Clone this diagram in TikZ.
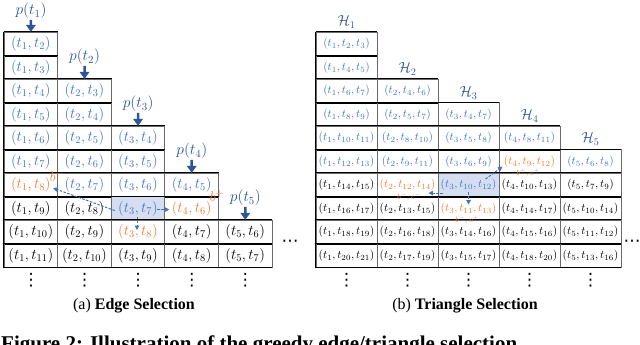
\RequirePackage{fix-cm}
\documentclass[tikz,border=0pt]{standalone}
\usepackage{fontspec}
\newfontfamily\capfont{Liberation Serif}
\newfontfamily\dejavu{DejaVu Sans}
\usetikzlibrary{arrows.meta,calc}
\definecolor{cB}{HTML}{4472C4}
\definecolor{cO}{HTML}{ED7D31}
\definecolor{cD}{HTML}{2F5597}
\definecolor{hlfill}{HTML}{D5DEF1}
\definecolor{vline}{HTML}{6A6A6A}
\tikzset{
  cellL/.style={draw=vline, line width=0.9pt, minimum width=53.6pt, minimum height=23.5pt, inner sep=0pt, font=\fontsize{14.8}{16}\selectfont},
  cellR/.style={draw=vline, line width=0.9pt, minimum width=61pt, minimum height=23.5pt, inner sep=0pt, font=\fontsize{11.4}{13}\selectfont},
  sB/.style={text=cB}, sO/.style={text=cO}, sK/.style={text=black},
  sH/.style={text=cB, fill=hlfill},
  hline/.style={draw=black, line width=1.1pt},
  plabel/.style={text=cD, inner sep=1pt, font=\fontsize{15.5}{17}\selectfont},
  hlabel/.style={text=cD, inner sep=1pt, font=\fontsize{14.5}{16}\selectfont},
  parrow/.style={draw=cD, line width=2.5pt, -{Triangle[length=7pt,width=9.5pt]}},
  darrow/.style={draw=cB, line width=1pt, dash pattern=on 2.5pt off 1.5pt, -{Triangle[length=4.5pt,width=4.5pt]}},
  blab/.style={text=cO, inner sep=0pt, font=\fontsize{14}{16}\selectfont},
  smlab/.style={text=cO, inner sep=0pt, font=\fontsize{7.5}{9}\selectfont},
  dotsnode/.style={inner sep=0pt, font=\dejavu\fontsize{17}{19}\selectfont},
  capnode/.style={anchor=base, inner sep=0pt, font=\capfont\fontsize{16}{19}\selectfont}
}
\begin{document}
\begin{tikzpicture}[x=1pt,y=-1pt]
\useasboundingbox (0,0) rectangle (640,345);
\clip (0,0) rectangle (640,345);
% ---------- left grid: edge selection ----------
\foreach \na/\ns/\lst in {
  1/1/{sB,sB,sB,sB,sB,sB,sO,sK,sK,sK},
  2/3/{sB,sB,sB,sB,sB,sK,sK,sK},
  3/5/{sB,sB,sB,sH,sO,sK},
  4/7/{sB,sO,sK,sK},
  5/9/{sK,sK}}{
  \foreach \st [count=\kk from 0] in \lst {
    \pgfmathtruncatemacro\rr{\ns+\kk}
    \pgfmathtruncatemacro\nb{\rr-\na+2}
    \pgfmathsetmacro\xx{4+(\na-1)*53.6+26.8}
    \pgfmathsetmacro\yy{32.3+(\rr-1)*23.5+11.75}
    \node[cellL,\st] (L\na-\nb) at (\xx,\yy) {$(t_{\na},t_{\nb})$};
    \draw[hline] (L\na-\nb.north west) -- (L\na-\nb.north east)
                 (L\na-\nb.south west) -- (L\na-\nb.south east);
  }
}
\draw[hline] (L1-2.north west) -- (L1-11.south west);
% ---------- right grid: triangle selection ----------
\foreach \nc/\ns/\lst in {
  1/1/{2/3/sB,4/5/sB,6/7/sB,8/9/sB,10/11/sB,12/13/sB,14/15/sK,16/17/sK,18/19/sK,20/21/sK},
  2/3/{4/6/sB,5/7/sB,8/10/sB,9/11/sB,12/14/sO,13/15/sK,16/18/sK,17/19/sK},
  3/4/{4/7/sB,5/8/sB,6/9/sB,10/12/sH,11/13/sO,14/16/sK,15/17/sK},
  4/5/{8/11/sB,9/12/sO,10/13/sK,14/17/sK,15/16/sK,18/20/sK},
  5/6/{6/8/sB,7/9/sK,10/14/sK,11/12/sK,13/16/sK}}{
  \foreach \pp/\qq/\st [count=\kk from 0] in \lst {
    \pgfmathtruncatemacro\rr{\ns+\kk}
    \pgfmathsetmacro\xx{316+(\nc-1)*61+30.5}
    \pgfmathsetmacro\yy{32.3+(\rr-1)*23.5+11.75}
    \node[cellR,\st] (R\nc-\rr) at (\xx,\yy) {$(t_{\nc},t_{\pp},t_{\qq})$};
    \draw[hline] (R\nc-\rr.north west) -- (R\nc-\rr.north east)
                 (R\nc-\rr.south west) -- (R\nc-\rr.south east);
  }
}
\draw[hline] (R1-1.north west) -- (R1-10.south west);
% ---------- p(t) labels and arrows ----------
\node[plabel] (p1) at (31,11) {$p(t_1)$};
\node[plabel] (p2) at (84.6,57) {$p(t_2)$};
\node[plabel] (p3) at (138.2,104) {$p(t_3)$};
\node[plabel] (p4) at (191.8,151) {$p(t_4)$};
\node[plabel] (p5) at (245.4,198) {$p(t_5)$};
\draw[parrow] (p1) -- (L1-2);
\draw[parrow] (p2) -- (L2-3);
\draw[parrow] (p3) -- (L3-4);
\draw[parrow] (p4) -- (L4-5);
\draw[parrow] (p5) -- (L5-6);
% ---------- H labels ----------
\node[hlabel] (h1) at (346.5,22) {$\mathcal{H}_1$};
\node[hlabel] (h2) at (407.5,69) {$\mathcal{H}_2$};
\node[hlabel] (h3) at (468.5,93) {$\mathcal{H}_3$};
\node[hlabel] (h4) at (529.5,116) {$\mathcal{H}_4$};
\node[hlabel] (h5) at (590.5,139) {$\mathcal{H}_5$};
% ---------- left dashed arrows ----------
\draw[darrow] ([shift={(4,2)}]L3-7.west) -- ([shift={(-5,3)}]L1-8.east);
\draw[darrow] ([shift={(-1,8)}]L3-7.center) -- ([shift={(-1,-2)}]L3-8.center);
\draw[darrow] ([shift={(-8,1)}]L3-7.east) -- ([shift={(5,1)}]L4-6.west);
\node[blab] (bm) at (57,176) {$b^-$};
\node[blab] (bp) at (217,196) {$b^+$};
% ---------- right dashed arrows ----------
\draw[darrow] ([shift={(5,8)}]R3-7.west) -- ([shift={(-10,8)}]R2-7.east);
\draw[darrow] ([shift={(0,7)}]R3-7.center) -- ([shift={(0,-4)}]R3-8.center);
\draw[darrow] ([shift={(17,-6)}]R3-7.center) -- ([shift={(4,5)}]R4-6.west);
\node[smlab] (lb1) at (409,197) {$b^-,c^-$};
\node[smlab] (lb2) at (467,220) {$b^-,c^+$};
\node[smlab] (lb3) at (528,173) {$b^+,c^+$};
% ---------- dots ----------
\node[dotsnode] (v1) at (31,280) {⋮};
\node[dotsnode] (v2) at (84.6,280) {⋮};
\node[dotsnode] (v3) at (138.2,280) {⋮};
\node[dotsnode] (v4) at (191.8,280) {⋮};
\node[dotsnode] (v5) at (245.4,280) {⋮};
\node[dotsnode] (w1) at (346.5,280) {⋮};
\node[dotsnode] (w2) at (407.5,280) {⋮};
\node[dotsnode] (w3) at (468.5,280) {⋮};
\node[dotsnode] (w4) at (529.5,280) {⋮};
\node[dotsnode] (w5) at (590.5,280) {⋮};
\node[dotsnode] (hd1) at (290,243) {⋯};
\node[dotsnode] (hd2) at (632,243) {⋯};
% ---------- captions ----------
\node[capnode] (capa) at (134,309) {(a) \textbf{Edge Selection}};
\node[capnode] (capb) at (465,309) {(b) \textbf{Triangle Selection}};
\node[anchor=base west, inner sep=0pt, font=\capfont\bfseries\fontsize{21}{24}\selectfont] (fig) at (1,350.5) {Figure 2: Illustration of the greedy edge/triangle selection};
\end{tikzpicture}
\end{document}
